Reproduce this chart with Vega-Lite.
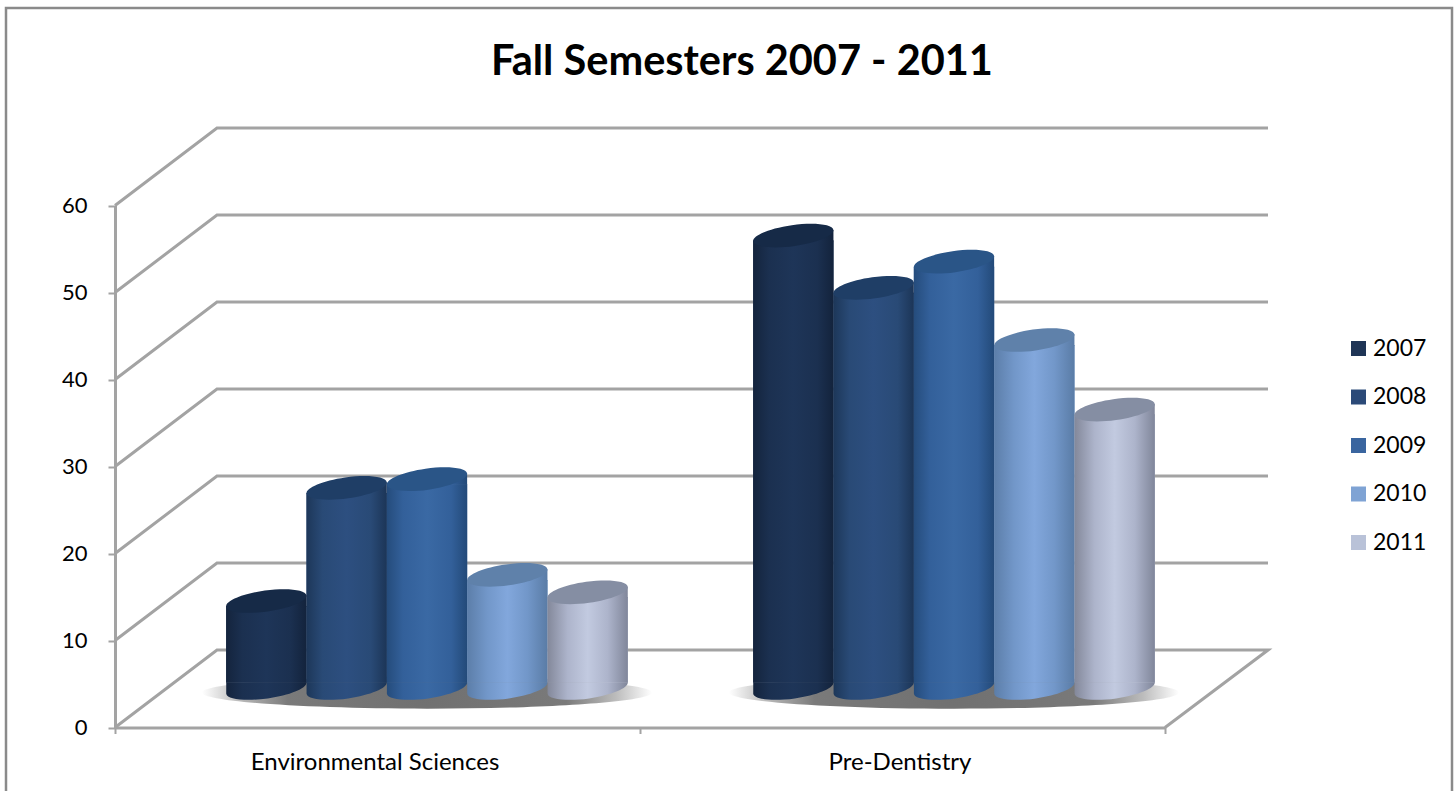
{
"$schema":"https://vega.github.io/schema/vega-lite/v6.json",
"width":1446,"height":790,
"autosize":"none",
"padding":{"left":6,"top":8,"right":4,"bottom":0},
"background":"white",
"config":{"view":{"stroke":"#8a8a8a","strokeWidth":2.5},"font":"Lato"},
"title":{"text":"Fall Semesters 2007 - 2011","font":"Lato","fontSize":41.5,"fontWeight":"bold","color":"#000000","anchor":"middle","frame":"group","dx":13,"offset":-108,"baseline":"alphabetic"},
"data":{"values":[
{"program":"Environmental Sciences","year":"2007","students":10},
{"program":"Environmental Sciences","year":"2008","students":23},
{"program":"Environmental Sciences","year":"2009","students":24},
{"program":"Environmental Sciences","year":"2010","students":13},
{"program":"Environmental Sciences","year":"2011","students":11},
{"program":"Pre-Dentistry","year":"2007","students":52},
{"program":"Pre-Dentistry","year":"2008","students":46},
{"program":"Pre-Dentistry","year":"2009","students":49},
{"program":"Pre-Dentistry","year":"2010","students":40},
{"program":"Pre-Dentistry","year":"2011","students":32}
]},
"layer":[
{"data":{"values":[
{"line":"l0","seq":1,"px":0,"py":0},{"line":"l0","seq":2,"px":102,"py":8.9},{"line":"l0","seq":3,"px":1153,"py":8.9},{"line":"l0","seq":4,"px":1050,"py":0},
{"line":"l10","seq":1,"px":0,"py":10},{"line":"l10","seq":2,"px":102,"py":18.9},{"line":"l10","seq":3,"px":1153,"py":18.9},
{"line":"l20","seq":1,"px":0,"py":20},{"line":"l20","seq":2,"px":102,"py":28.9},{"line":"l20","seq":3,"px":1153,"py":28.9},
{"line":"l30","seq":1,"px":0,"py":30},{"line":"l30","seq":2,"px":102,"py":38.9},{"line":"l30","seq":3,"px":1153,"py":38.9},
{"line":"l40","seq":1,"px":0,"py":40},{"line":"l40","seq":2,"px":102,"py":48.9},{"line":"l40","seq":3,"px":1153,"py":48.9},
{"line":"l50","seq":1,"px":0,"py":50},{"line":"l50","seq":2,"px":102,"py":58.9},{"line":"l50","seq":3,"px":1153,"py":58.9},
{"line":"l60","seq":1,"px":0,"py":60},{"line":"l60","seq":2,"px":102,"py":68.9},{"line":"l60","seq":3,"px":1153,"py":68.9}
]},
"mark":{"type":"line","color":"#a3a3a3","strokeWidth":3,"clip":false},
"encoding":{
"x":{"field":"px","type":"quantitative","axis":null,"scale":{"domain":[0,1153],"range":[109,1262],"nice":false,"zero":false}},
"y":{"field":"py","type":"quantitative","axis":null,"scale":{"domain":[0,60],"range":[719.5,197.5],"nice":false,"zero":false}},
"detail":{"field":"line"},
"order":{"field":"seq","type":"quantitative"}
}},
{"data":{"values":[{"program":"Environmental Sciences","base":0},{"program":"Pre-Dentistry","base":0}]},
"mark":{"type":"point","filled":true,"opacity":1,"size":202500,"shape":"M-1,0.02A1,0.072,0,1,1,1,0.02A1,0.072,0,1,1,-1,0.02Z",
"fill":{"gradient":"radial","x1":0.5,"y1":0.5,"r1":0,"x2":0.5,"y2":0.5,"r2":0.5,"stops":[{"offset":0,"color":"#707070"},{"offset":0.62,"color":"#7a7a7a"},{"offset":0.84,"color":"#bcbcbc"},{"offset":1,"color":"#ffffff"}]}},
"encoding":{
"x":{"field":"program","type":"nominal","axis":null,"scale":{"domain":["Environmental Sciences","Pre-Dentistry"],"range":[157.5,1211.5],"paddingInner":0,"paddingOuter":0}},
"y":{"field":"base","type":"quantitative","axis":null,"scale":{"domain":[0,60],"range":[680,158],"nice":false}}
}},
{"mark":{"type":"bar"},
"encoding":{
"x":{"field":"program","type":"nominal","axis":null,"scale":{"domain":["Environmental Sciences","Pre-Dentistry"],"range":[157.5,1211.5],"paddingInner":0,"paddingOuter":0}},
"xOffset":{"field":"year","type":"nominal","scale":{"type":"band","domain":["2007","2008","2009","2010","2011"],"paddingInner":0,"paddingOuter":0.78}},
"y":{"field":"students","type":"quantitative","axis":null,"stack":null,"scale":{"domain":[0,60],"range":[685,163],"nice":false}},
"y2":{"datum":1.2},
"color":{"field":"year","type":"nominal","scale":{"domain":["2007","2008","2009","2010","2011"],"range":["#1f3556","#2b4a78","#3a659f","#7fa3d4","#b9c2d8"]},
"legend":{"title":null,"orient":"none","legendX":1341,"legendY":329,"symbolType":"square","symbolSize":225,"symbolStrokeWidth":0,"labelFont":"Lato","labelFontSize":23,"labelColor":"#000000","rowPadding":24.5,"labelOffset":3}}
}},
{"mark":{"type":"bar"},
"encoding":{
"x":{"field":"program","type":"nominal","axis":null,"scale":{"domain":["Environmental Sciences","Pre-Dentistry"],"range":[157.5,1211.5],"paddingInner":0,"paddingOuter":0}},
"xOffset":{"field":"year","type":"nominal","scale":{"type":"band","domain":["2007","2008","2009","2010","2011"],"paddingInner":0,"paddingOuter":0.78}},
"y":{"field":"students","type":"quantitative","axis":null,"stack":null,"scale":{"domain":[0,60],"range":[685,163],"nice":false}},
"y2":{"datum":1.2},
"fill":{"condition":[
{"test":"datum.year==='2007'","value":{"gradient":"linear","x1":0,"y1":0,"x2":1,"y2":0,"stops":[{"offset":0,"color":"#14243d"},{"offset":0.2,"color":"#1b3050"},{"offset":0.5,"color":"#1e3558"},{"offset":0.8,"color":"#1b3050"},{"offset":1,"color":"#13233c"}]}},
{"test":"datum.year==='2008'","value":{"gradient":"linear","x1":0,"y1":0,"x2":1,"y2":0,"stops":[{"offset":0,"color":"#1d3759"},{"offset":0.2,"color":"#294a76"},{"offset":0.5,"color":"#2d4f80"},{"offset":0.8,"color":"#294a76"},{"offset":1,"color":"#1c3557"}]}},
{"test":"datum.year==='2009'","value":{"gradient":"linear","x1":0,"y1":0,"x2":1,"y2":0,"stops":[{"offset":0,"color":"#254c7c"},{"offset":0.2,"color":"#33609a"},{"offset":0.5,"color":"#3a69a4"},{"offset":0.8,"color":"#33609a"},{"offset":1,"color":"#234a79"}]}},
{"test":"datum.year==='2010'","value":{"gradient":"linear","x1":0,"y1":0,"x2":1,"y2":0,"stops":[{"offset":0,"color":"#5c7ea9"},{"offset":0.25,"color":"#7297c9"},{"offset":0.5,"color":"#82a7dc"},{"offset":0.75,"color":"#7297c9"},{"offset":1,"color":"#5a7ca6"}]}}
],
"value":{"gradient":"linear","x1":0,"y1":0,"x2":1,"y2":0,"stops":[{"offset":0,"color":"#83889a"},{"offset":0.25,"color":"#adb4cb"},{"offset":0.5,"color":"#c2cae0"},{"offset":0.75,"color":"#adb4cb"},{"offset":1,"color":"#80869a"}]}}
}},
{"mark":{"type":"point","filled":true,"opacity":1,"size":6561,"shape":"M-0.9903,-0.1392L0.9903,-0.1392A1,0.26,-8,0,1,-0.9903,0.1392Z"},
"encoding":{
"x":{"field":"program","type":"nominal","axis":null,"scale":{"domain":["Environmental Sciences","Pre-Dentistry"],"range":[157.5,1211.5],"paddingInner":0,"paddingOuter":0}},
"xOffset":{"field":"year","type":"nominal","scale":{"type":"band","domain":["2007","2008","2009","2010","2011"],"paddingInner":0,"paddingOuter":0.78}},
"y":{"datum":0,"axis":null,"scale":{"domain":[0,60],"range":[680,158],"nice":false}},
"fill":{"condition":[
{"test":"datum.year==='2007'","value":{"gradient":"linear","x1":0,"y1":0,"x2":1,"y2":0,"stops":[{"offset":0,"color":"#14243d"},{"offset":0.2,"color":"#1b3050"},{"offset":0.5,"color":"#1e3558"},{"offset":0.8,"color":"#1b3050"},{"offset":1,"color":"#13233c"}]}},
{"test":"datum.year==='2008'","value":{"gradient":"linear","x1":0,"y1":0,"x2":1,"y2":0,"stops":[{"offset":0,"color":"#1d3759"},{"offset":0.2,"color":"#294a76"},{"offset":0.5,"color":"#2d4f80"},{"offset":0.8,"color":"#294a76"},{"offset":1,"color":"#1c3557"}]}},
{"test":"datum.year==='2009'","value":{"gradient":"linear","x1":0,"y1":0,"x2":1,"y2":0,"stops":[{"offset":0,"color":"#254c7c"},{"offset":0.2,"color":"#33609a"},{"offset":0.5,"color":"#3a69a4"},{"offset":0.8,"color":"#33609a"},{"offset":1,"color":"#234a79"}]}},
{"test":"datum.year==='2010'","value":{"gradient":"linear","x1":0,"y1":0,"x2":1,"y2":0,"stops":[{"offset":0,"color":"#5c7ea9"},{"offset":0.25,"color":"#7297c9"},{"offset":0.5,"color":"#82a7dc"},{"offset":0.75,"color":"#7297c9"},{"offset":1,"color":"#5a7ca6"}]}}
],
"value":{"gradient":"linear","x1":0,"y1":0,"x2":1,"y2":0,"stops":[{"offset":0,"color":"#83889a"},{"offset":0.25,"color":"#adb4cb"},{"offset":0.5,"color":"#c2cae0"},{"offset":0.75,"color":"#adb4cb"},{"offset":1,"color":"#80869a"}]}}
}},
{"mark":{"type":"point","filled":true,"opacity":1,"size":6561,"shape":"M-0.9903,0.1392L0.9903,-0.1392L0.9903,0.1392Z"},
"encoding":{
"x":{"field":"program","type":"nominal","axis":null,"scale":{"domain":["Environmental Sciences","Pre-Dentistry"],"range":[157.5,1211.5],"paddingInner":0,"paddingOuter":0}},
"xOffset":{"field":"year","type":"nominal","scale":{"type":"band","domain":["2007","2008","2009","2010","2011"],"paddingInner":0,"paddingOuter":0.78}},
"y":{"field":"students","type":"quantitative","axis":null,"stack":null,"scale":{"domain":[0,60],"range":[680,158],"nice":false}},
"fill":{"condition":[
{"test":"datum.year==='2007'","value":{"gradient":"linear","x1":0,"y1":0,"x2":1,"y2":0,"stops":[{"offset":0,"color":"#14243d"},{"offset":0.2,"color":"#1b3050"},{"offset":0.5,"color":"#1e3558"},{"offset":0.8,"color":"#1b3050"},{"offset":1,"color":"#13233c"}]}},
{"test":"datum.year==='2008'","value":{"gradient":"linear","x1":0,"y1":0,"x2":1,"y2":0,"stops":[{"offset":0,"color":"#1d3759"},{"offset":0.2,"color":"#294a76"},{"offset":0.5,"color":"#2d4f80"},{"offset":0.8,"color":"#294a76"},{"offset":1,"color":"#1c3557"}]}},
{"test":"datum.year==='2009'","value":{"gradient":"linear","x1":0,"y1":0,"x2":1,"y2":0,"stops":[{"offset":0,"color":"#254c7c"},{"offset":0.2,"color":"#33609a"},{"offset":0.5,"color":"#3a69a4"},{"offset":0.8,"color":"#33609a"},{"offset":1,"color":"#234a79"}]}},
{"test":"datum.year==='2010'","value":{"gradient":"linear","x1":0,"y1":0,"x2":1,"y2":0,"stops":[{"offset":0,"color":"#5c7ea9"},{"offset":0.25,"color":"#7297c9"},{"offset":0.5,"color":"#82a7dc"},{"offset":0.75,"color":"#7297c9"},{"offset":1,"color":"#5a7ca6"}]}}
],
"value":{"gradient":"linear","x1":0,"y1":0,"x2":1,"y2":0,"stops":[{"offset":0,"color":"#83889a"},{"offset":0.25,"color":"#adb4cb"},{"offset":0.5,"color":"#c2cae0"},{"offset":0.75,"color":"#adb4cb"},{"offset":1,"color":"#80869a"}]}}
}},
{"mark":{"type":"point","filled":true,"opacity":1,"size":6561,"shape":"M-0.9903,0.1392A1,0.26,-8,1,1,0.9903,-0.1392A1,0.26,-8,1,1,-0.9903,0.1392Z"},
"encoding":{
"x":{"field":"program","type":"nominal","axis":null,"scale":{"domain":["Environmental Sciences","Pre-Dentistry"],"range":[157.5,1211.5],"paddingInner":0,"paddingOuter":0}},
"xOffset":{"field":"year","type":"nominal","scale":{"type":"band","domain":["2007","2008","2009","2010","2011"],"paddingInner":0,"paddingOuter":0.78}},
"y":{"field":"students","type":"quantitative","axis":null,"stack":null,"scale":{"domain":[0,60],"range":[680,158],"nice":false}},
"fill":{"condition":[
{"test":"datum.year==='2007'","value":"#162a47"},
{"test":"datum.year==='2008'","value":"#1f3e66"},
{"test":"datum.year==='2009'","value":"#2a5587"},
{"test":"datum.year==='2010'","value":"#5f81aa"}
],"value":"#858ea3"}
}},
{"mark":{"type":"point","opacity":0},
"encoding":{
"x":{"field":"program","type":"nominal","scale":{"domain":["Environmental Sciences","Pre-Dentistry"],"range":[109,1159],"paddingInner":0,"paddingOuter":0},
"axis":{"title":null,"orient":"bottom","offset":-70.5,"domainColor":"#a3a3a3","domainWidth":3,"tickColor":"#a3a3a3","tickWidth":2,"tickSize":6,"tickBand":"extent","labelAngle":0,"labelFont":"Lato","labelFontSize":24,"labelLimit":400,"labelColor":"#000000","labelPadding":17,"labelOffset":-3,"grid":false}},
"y":{"field":"students","type":"quantitative","stack":null,"scale":{"domain":[0,60],"range":[719.5,197.5],"nice":false},
"axis":{"title":null,"orient":"left","offset":-109,"values":[0,10,20,30,40,50,60],"domainColor":"#a3a3a3","domainWidth":3,"tickColor":"#a3a3a3","tickWidth":2,"tickSize":7,"labelFont":"Lato","labelFontSize":22,"labelColor":"#000000","labelPadding":21,"grid":false}}
}}
],
"resolve":{"scale":{"x":"independent","y":"independent","xOffset":"independent"},"axis":{"x":"independent","y":"independent"}}
}
